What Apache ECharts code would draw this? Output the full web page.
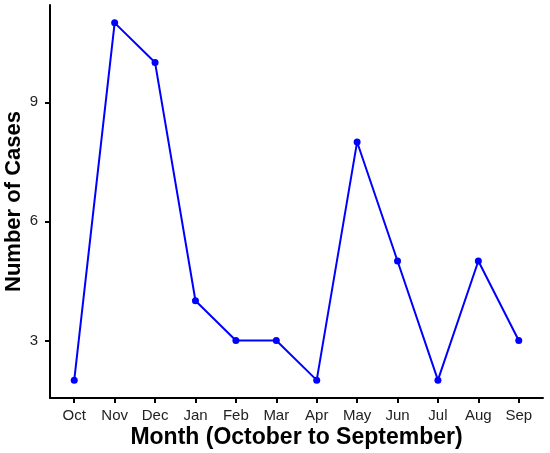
<!DOCTYPE html>
<html>
<head>
<meta charset="utf-8">
<script src="https://cdn.jsdelivr.net/npm/echarts@6/dist/echarts.min.js"></script>
<style>
  html, body { margin: 0; padding: 0; background: #fff; }
  #container { width: 550px; height: 453px; }
</style>
</head>
<body>
<div id="container"></div>
<script>
var months = ["Oct", "Nov", "Dec", "Jan", "Feb", "Mar", "Apr", "May", "Jun", "Jul", "Aug", "Sep"];
var cases = [2, 11, 10, 4, 3, 3, 2, 8, 5, 2, 5, 3];
var yTicks = [3, 6, 9];

var dom = document.getElementById("container");
var myChart = echarts.init(dom);

// value axis on x so the ends can be padded like ggplot (0.6 of a step)
var xTicks = months.map(function (m, i) { return i; });
var seriesData = cases.map(function (v, i) { return [i, v]; });

var font = "Liberation Sans, Arial, sans-serif";

var option = {
  backgroundColor: "#fff",
  animation: false,
  grid: {
    left: 50,
    right: 7,
    top: 5,
    bottom: 55,
    outerBoundsMode: "none"
  },
  xAxis: {
    type: "value",
    min: -0.6,
    max: 11.6,
    name: "Month (October to September)",
    nameLocation: "middle",
    nameGap: 28,
    nameMoveOverlap: false,
    nameTextStyle: { fontFamily: font, fontSize: 23, fontWeight: "bold", color: "#000" },
    splitLine: { show: false },
    axisLine: { show: true, onZero: false, lineStyle: { color: "#000", width: 2 } },
    axisTick: { show: true, length: 5, customValues: xTicks, lineStyle: { color: "#000", width: 2 } },
    axisLabel: {
      customValues: xTicks,
      margin: 10,
      fontFamily: font,
      fontSize: 15,
      color: "#222",
      formatter: function (v) { return months[Math.round(v)]; }
    }
  },
  yAxis: {
    type: "value",
    min: 1.55,
    max: 11.45,
    name: "Number of Cases",
    nameLocation: "middle",
    nameGap: 25,
    nameMoveOverlap: false,
    nameTextStyle: { fontFamily: font, fontSize: 22, fontWeight: "bold", color: "#000" },
    splitLine: { show: false },
    axisLine: { show: true, onZero: false, lineStyle: { color: "#000", width: 2 } },
    axisTick: { show: true, length: 5, customValues: yTicks, lineStyle: { color: "#000", width: 2 } },
    axisLabel: {
      customValues: yTicks,
      margin: 12,
      fontFamily: font,
      fontSize: 15,
      color: "#222"
    }
  },
  series: [
    {
      type: "line",
      data: seriesData,
      symbol: "circle",
      symbolSize: 7,
      lineStyle: { color: "#0000ff", width: 2 },
      itemStyle: { color: "#0000ff" }
    }
  ]
};

myChart.setOption(option);
</script>
</body>
</html>
